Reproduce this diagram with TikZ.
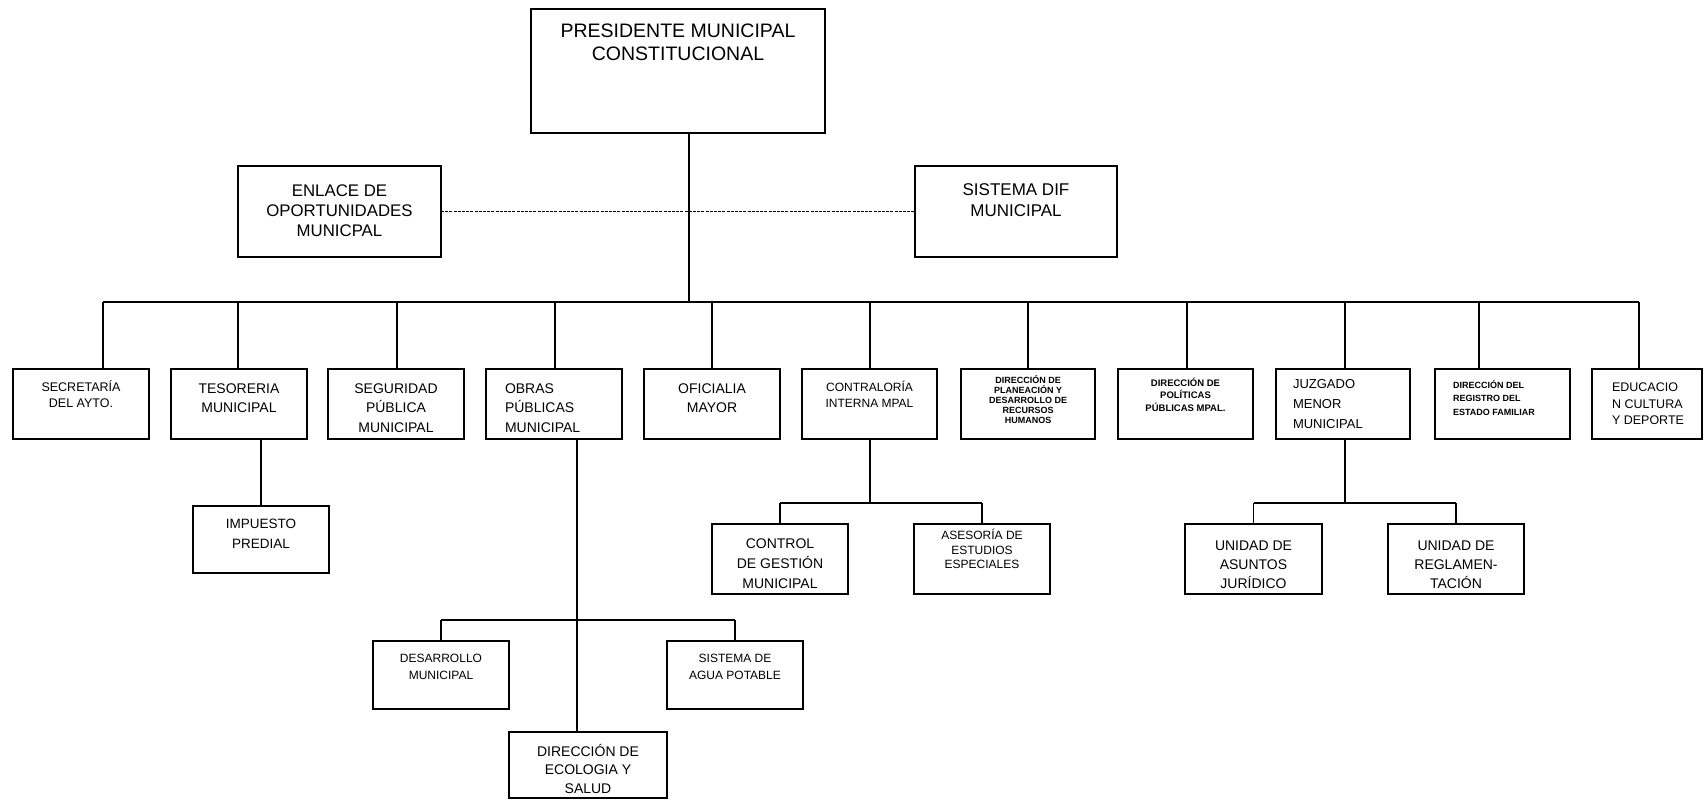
\documentclass[tikz,border=0pt]{standalone}
\usepackage{fontspec}
\setmainfont{Liberation Sans}
% width, height, font size, baselineskip, first baseline offset, alignment, text
\newcommand\bt[7]{\parbox[c][#2][t]{#1}{\fontsize{#3}{#4}\selectfont#6\rule{0pt}{#5}#7\par}}
\tikzset{
  box/.style={draw, line width=1.8pt, inner sep=0pt, outer sep=0pt, anchor=north west, fill=white},
  conn/.style={line width=1.8pt},
  dotconn/.style={line width=1.6pt, dash pattern=on 3pt off 1.2pt}
}
\begin{document}
\begin{tikzpicture}[x=1pt,y=-1pt]
\useasboundingbox[fill=white] (0,0) rectangle (1705,800);

% top level
\node[box] (pres) at (531,9) {\bt{294pt}{124pt}{19.5}{23}{28.5pt}{\centering}{PRESIDENTE MUNICIPAL\\CONSTITUCIONAL}};
\node[box] (enlace) at (238,166) {\bt{203pt}{91pt}{16.8}{20}{30pt}{\centering}{ENLACE DE\\OPORTUNIDADES\\MUNICPAL}};
\node[box] (dif) at (915,166) {\bt{202pt}{91pt}{17}{21}{29pt}{\centering}{SISTEMA DIF\\MUNICIPAL}};

% row of direcciones
\node[box] (secre) at (13,369) {\bt{136pt}{70pt}{12.5}{16.5}{22pt}{\centering}{SECRETARÍA\\DEL AYTO.}};
\node[box] (teso) at (171,369) {\bt{136pt}{70pt}{14}{19}{24pt}{\centering}{TESORERIA\\MUNICIPAL}};
\node[box] (segu) at (328,369) {\bt{136pt}{70pt}{14}{19.5}{24pt}{\centering}{SEGURIDAD\\PÚBLICA\\MUNICIPAL}};
\node[box] (obras) at (486,369) {\bt{136pt}{70pt}{14}{19.5}{24pt}{\raggedright\leftskip=19pt}{OBRAS\\PÚBLICAS\\MUNICIPAL}};
\node[box] (ofic) at (644,369) {\bt{136pt}{70pt}{14}{19.5}{24pt}{\centering}{OFICIALIA\\MAYOR}};
\node[box] (contra) at (802,369) {\bt{135pt}{70pt}{12}{16.5}{22pt}{\centering}{CONTRALORÍA\\INTERNA MPAL}};
\node[box] (plan) at (961,369) {\bt{134pt}{70pt}{9}{10}{14pt}{\centering\bfseries}{DIRECCIÓN DE\\PLANEACIÓN Y\\DESARROLLO DE\\RECURSOS\\HUMANOS}};
\node[box] (poli) at (1118,369) {\bt{135pt}{70pt}{9.5}{12.5}{17pt}{\centering\bfseries}{DIRECCIÓN DE\\POLÍTICAS\\PÚBLICAS MPAL.}};
\node[box] (juz) at (1276,369) {\bt{134pt}{70pt}{13}{20}{19pt}{\raggedright\leftskip=17pt}{JUZGADO\\MENOR\\MUNICIPAL}};
\node[box] (regis) at (1435,369) {\bt{135pt}{70pt}{9}{13.5}{19pt}{\raggedright\leftskip=18pt\bfseries}{DIRECCIÓN DEL\\REGISTRO DEL\\ESTADO FAMILIAR}};
\node[box] (educ) at (1592,369) {\bt{110pt}{70pt}{12.5}{16.5}{22.5pt}{\raggedright\leftskip=20pt}{EDUCACIO\\N CULTURA\\Y DEPORTE}};

% sub levels
\node[box] (imp) at (193,506) {\bt{136pt}{67pt}{13.5}{20}{22pt}{\centering}{IMPUESTO\\PREDIAL}};
\node[box] (control) at (712,524) {\bt{136pt}{70pt}{14}{20}{24pt}{\centering}{CONTROL\\DE GESTIÓN\\MUNICIPAL}};
\node[box] (ases) at (914,524) {\bt{136pt}{70pt}{12}{14.5}{15.5pt}{\centering}{ASESORÍA DE\\ESTUDIOS\\ESPECIALES}};
\node[box] (asun) at (1185,524) {\bt{137pt}{70pt}{14}{19}{26pt}{\centering}{UNIDAD DE\\ASUNTOS\\JURÍDICO}};
\node[box] (regl) at (1388,524) {\bt{136pt}{70pt}{14}{19}{26pt}{\centering}{UNIDAD DE\\REGLAMEN-\\TACIÓN}};
\node[box] (desa) at (373,641) {\bt{136pt}{68pt}{12}{17}{21.5pt}{\centering}{DESARROLLO\\MUNICIPAL}};
\node[box] (agua) at (667,641) {\bt{136pt}{68pt}{12}{17}{21.5pt}{\centering}{SISTEMA DE\\AGUA POTABLE}};
\node[box] (eco) at (509,732) {\bt{158pt}{66pt}{14}{18.3}{24.5pt}{\centering}{DIRECCIÓN DE\\ECOLOGIA Y\\SALUD}};

% coordinates for the main bus
\coordinate (t) at (689,302);
\coordinate (d1) at (103,302);
\coordinate (d2) at (238,302);
\coordinate (d3) at (397,302);
\coordinate (d4) at (555,302);
\coordinate (d5) at (712,302);
\coordinate (d6) at (870,302);
\coordinate (d7) at (1028,302);
\coordinate (d8) at (1187,302);
\coordinate (d9) at (1345,302);
\coordinate (d10) at (1479,302);
\coordinate (d11) at (1639,302);

% connectors
\draw[dotconn] (enlace.east) -- (dif.west);
\draw[conn] (t |- pres.south) -- (t);
\draw[conn] (d1) -- (d11);
\draw[conn] (d1) -- (d1 |- secre.north);
\draw[conn] (d2) -- (d2 |- teso.north);
\draw[conn] (d3) -- (d3 |- segu.north);
\draw[conn] (d4) -- (d4 |- obras.north);
\draw[conn] (d5) -- (d5 |- ofic.north);
\draw[conn] (d6) -- (d6 |- contra.north);
\draw[conn] (d7) -- (d7 |- plan.north);
\draw[conn] (d8) -- (d8 |- poli.north);
\draw[conn] (d9) -- (d9 |- juz.north);
\draw[conn] (d10) -- (d10 |- regis.north);
\draw[conn] (d11) -- (d11 |- educ.north);

% tesoreria
\draw[conn] (imp.north |- teso.south) -- (imp.north);

% obras publicas
\coordinate (ob) at (577,620);
\draw[conn] (ob |- obras.south) -- (ob |- eco.north);
\draw[conn] (desa.north |- ob) -- (agua.north |- ob);
\draw[conn] (desa.north |- ob) -- (desa.north);
\draw[conn] (agua.north |- ob) -- (agua.north);

% contraloria
\coordinate (cb) at (870,503);
\draw[conn] (cb |- contra.south) -- (cb);
\draw[conn] (control.north |- cb) -- (ases.north |- cb);
\draw[conn] (control.north |- cb) -- (control.north);
\draw[conn] (ases.north |- cb) -- (ases.north);

% juzgado
\coordinate (jb) at (1345,503);
\draw[conn] (jb |- juz.south) -- (jb);
\draw[conn] (asun.north |- jb) -- (regl.north |- jb);
\draw[conn] (asun.north |- jb) -- (asun.north);
\draw[conn] (regl.north |- jb) -- (regl.north);
\end{tikzpicture}
\end{document}
